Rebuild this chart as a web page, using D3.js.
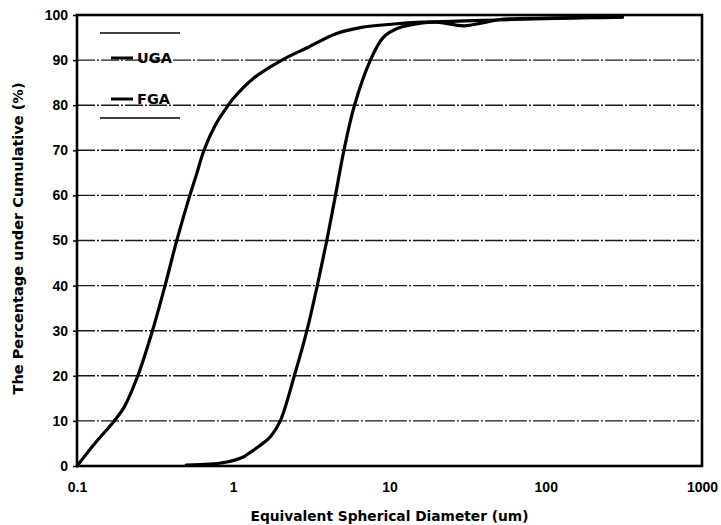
<!DOCTYPE html>
<html>
<head>
<meta charset="utf-8">
<script src="https://cdn.jsdelivr.net/npm/d3@7"></script>
<style>
  html, body { margin: 0; padding: 0; background: #fff; }
  svg { display: block; font-family: "DejaVu Sans", "Liberation Sans", sans-serif; }
</style>
</head>
<body>
<svg id="chart" width="721" height="525"></svg>
<script>
// Cumulative particle size distributions (percentage under size vs. diameter, um)
const ugaDiameter = [0.1, 0.13, 0.173, 0.2, 0.245, 0.304, 0.366, 0.435, 0.517, 0.58, 0.65, 0.78, 0.93, 1.0, 1.35, 2.05, 3.0, 4.5, 6.5, 10.7, 16, 25, 40, 60, 100, 200, 310];
const ugaPercent  = [0, 5, 10, 13, 20, 30, 40, 50, 59, 64.5, 70, 76, 80, 81.5, 86, 90, 92.8, 95.8, 97.2, 98, 98.4, 98.6, 98.8, 99, 99.2, 99.4, 99.5];

const fgaDiameter = [0.5, 0.7, 0.91, 1.16, 1.28, 1.49, 1.73, 2.0, 2.46, 2.96, 3.45, 3.97, 4.51, 5.11, 5.97, 7.55, 9.1, 11.2, 15.8, 20, 30, 40, 51, 100, 200, 310];
const fgaPercent  = [0.2, 0.4, 0.9, 2, 3, 4.6, 6.5, 10, 20, 30, 40, 50, 60, 70, 80, 90, 95, 97, 98.2, 98.4, 97.6, 98.3, 99, 99.3, 99.5, 99.6];

const seriesNames = ["UGA", "FGA"];
const xTicks = [0.1, 1, 10, 100, 1000];
const xTickLabels = ["0.1", "1", "10", "100", "1000"];
const yTicks = [0, 10, 20, 30, 40, 50, 60, 70, 80, 90, 100];
const xTitle = "Equivalent Spherical Diameter (um)";
const yTitle = "The Percentage under Cumulative (%)";

const svg = d3.select("#chart");
const plotLeft = 77, plotRight = 702, plotTop = 15, plotBottom = 466;

const x = d3.scaleLog().domain([0.1, 1000]).range([plotLeft, plotRight]);
const y = d3.scaleLinear().domain([0, 100]).range([plotBottom, plotTop]);

// horizontal gridlines
svg.append("g")
  .selectAll("line")
  .data(yTicks.filter(d => d > 0 && d < 100))
  .join("line")
  .attr("x1", plotLeft).attr("x2", plotRight)
  .attr("y1", d => y(d)).attr("y2", d => y(d))
  .attr("stroke", "#1a1a1a")
  .attr("stroke-width", 1.4)
  .attr("stroke-dasharray", "18,2,2,2");

// y axis
const yAxis = d3.axisLeft(y).tickValues(yTicks).tickSize(4).tickPadding(5).tickFormat(d3.format("d"));
const gy = svg.append("g").attr("transform", `translate(${plotLeft},0)`).call(yAxis);
gy.select(".domain").remove();
gy.selectAll("line").attr("stroke", "#000").attr("stroke-width", 1.5);
gy.selectAll("text").attr("font-size", 14).attr("font-weight", "bold").attr("fill", "#000");

// x axis
const xAxis = d3.axisBottom(x).tickValues(xTicks).tickSize(0).tickPadding(16)
  .tickFormat((d, i) => xTickLabels[i]);
const gx = svg.append("g").attr("transform", `translate(0,${plotBottom})`).call(xAxis);
gx.select(".domain").remove();
gx.selectAll("text").attr("font-size", 14).attr("font-weight", "bold").attr("fill", "#000");

// plot frame
svg.append("rect")
  .attr("x", plotLeft).attr("y", plotTop)
  .attr("width", plotRight - plotLeft).attr("height", plotBottom - plotTop)
  .attr("fill", "none").attr("stroke", "#000").attr("stroke-width", 2.6);

// curves
const line = d3.line()
  .x(d => x(d[0]))
  .y(d => y(d[1]))
  .curve(d3.curveCatmullRom.alpha(0.5));

const series = [
  ugaDiameter.map((d, i) => [d, ugaPercent[i]]),
  fgaDiameter.map((d, i) => [d, fgaPercent[i]])
];

svg.append("g")
  .selectAll("path")
  .data(series)
  .join("path")
  .attr("d", line)
  .attr("fill", "none")
  .attr("stroke", "#000")
  .attr("stroke-width", 3.2)
  .attr("stroke-linejoin", "round")
  .attr("stroke-linecap", "round");

// legend
const legend = svg.append("g");
legend.append("line").attr("x1", 100).attr("x2", 180).attr("y1", 33).attr("y2", 33)
  .attr("stroke", "#000").attr("stroke-width", 1.4);
legend.append("line").attr("x1", 100).attr("x2", 180).attr("y1", 118).attr("y2", 118)
  .attr("stroke", "#000").attr("stroke-width", 1.4);
const items = legend.selectAll("g.item")
  .data(seriesNames)
  .join("g")
  .attr("class", "item")
  .attr("transform", (d, i) => `translate(0,${58 + i * 41})`);
items.append("line")
  .attr("x1", 111).attr("x2", 133).attr("y1", 0).attr("y2", 0)
  .attr("stroke", "#000").attr("stroke-width", 3);
items.append("text")
  .attr("x", 137).attr("y", 0).attr("dy", "0.36em")
  .attr("font-size", 14.5).attr("font-weight", "bold")
  .text(d => d);

// axis titles
svg.append("text")
  .attr("x", (plotLeft + plotRight) / 2).attr("y", 521)
  .attr("text-anchor", "middle")
  .attr("font-size", 13.5).attr("font-weight", "bold")
  .attr("textLength", 278).attr("lengthAdjust", "spacingAndGlyphs")
  .text(xTitle);

svg.append("text")
  .attr("transform", `translate(23,${(plotTop + plotBottom) / 2 - 2}) rotate(-90)`)
  .attr("text-anchor", "middle")
  .attr("font-size", 13.5).attr("font-weight", "bold")
  .attr("textLength", 312).attr("lengthAdjust", "spacingAndGlyphs")
  .text(yTitle);
</script>
</body>
</html>
